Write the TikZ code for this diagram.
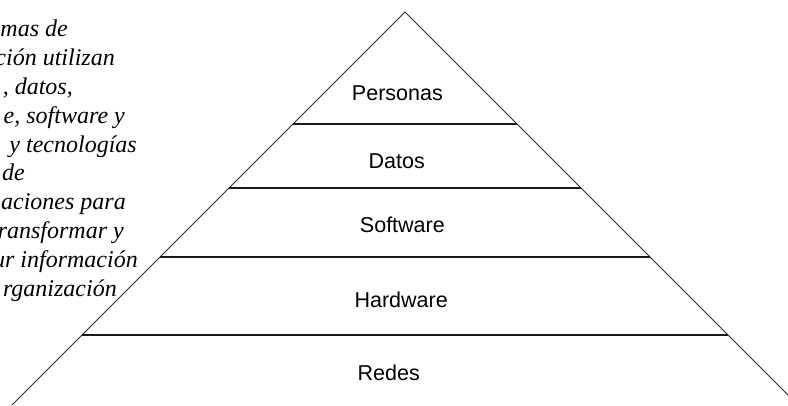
\documentclass[tikz,border=0pt]{standalone}
\usepackage{fontspec}
\setmainfont{Liberation Serif}
\newfontfamily\labfont{Liberation Sans}
\begin{document}
\begin{tikzpicture}[x=1bp,y=-1bp,
  side/.style={draw=black!85,line width=0.9bp},
  tier/.style={draw=black!90,line width=1.3bp},
  lab/.style={anchor=base east,inner sep=0pt,font=\labfont\fontsize{21.5bp}{26bp}\selectfont},
  para/.style={anchor=base east,inner sep=0pt,font=\itshape\fontsize{24bp}{29bp}\selectfont}]
\useasboundingbox (0,0) rectangle (788,405);
\clip (0,0) rectangle (788,405);
% pyramid
\coordinate (apex) at (405,12);
\coordinate (foot-l) at (12,405);
\coordinate (foot-r) at (798,405);
\draw[side] (foot-l) -- (apex) -- (foot-r);
\coordinate (t1l) at (293,124); \coordinate (t1r) at (517,124);
\coordinate (t2l) at (229,188); \coordinate (t2r) at (581,188);
\coordinate (t3l) at (160,257); \coordinate (t3r) at (650,257);
\coordinate (t4l) at (82,335);  \coordinate (t4r) at (728,335);
\draw[tier] (t1l) -- (t1r);
\draw[tier] (t2l) -- (t2r);
\draw[tier] (t3l) -- (t3r);
\draw[tier] (t4l) -- (t4r);
% labels
\node[lab] (personas) at (443,100) {Personas};
\node[lab] (datos) at (425,168) {Datos};
\node[lab] (software) at (445,232) {Software};
\node[lab] (hardware) at (448,307) {Hardware};
\node[lab] (redes) at (420,380) {Redes};
% paragraph (cut at the left edge)
\node[para] (p1) at (68,36) {mas de};
\node[para] (p2) at (115,65) {ción utilizan};
\node[para] (p3) at (73,94) {, datos,};
\node[para] (p4) at (125,123) {e, software y};
\node[para] (p5) at (137,152) {y tecnologías};
\node[para] (p6) at (25,180) {de};
\node[para] (p7) at (126,209) {aciones para};
\node[para] (p8) at (124,238) {ransformar y};
\node[para] (p9) at (138,267) {ur información};
\node[para] (p10) at (117,296) {rganización};
\end{tikzpicture}
\end{document}
